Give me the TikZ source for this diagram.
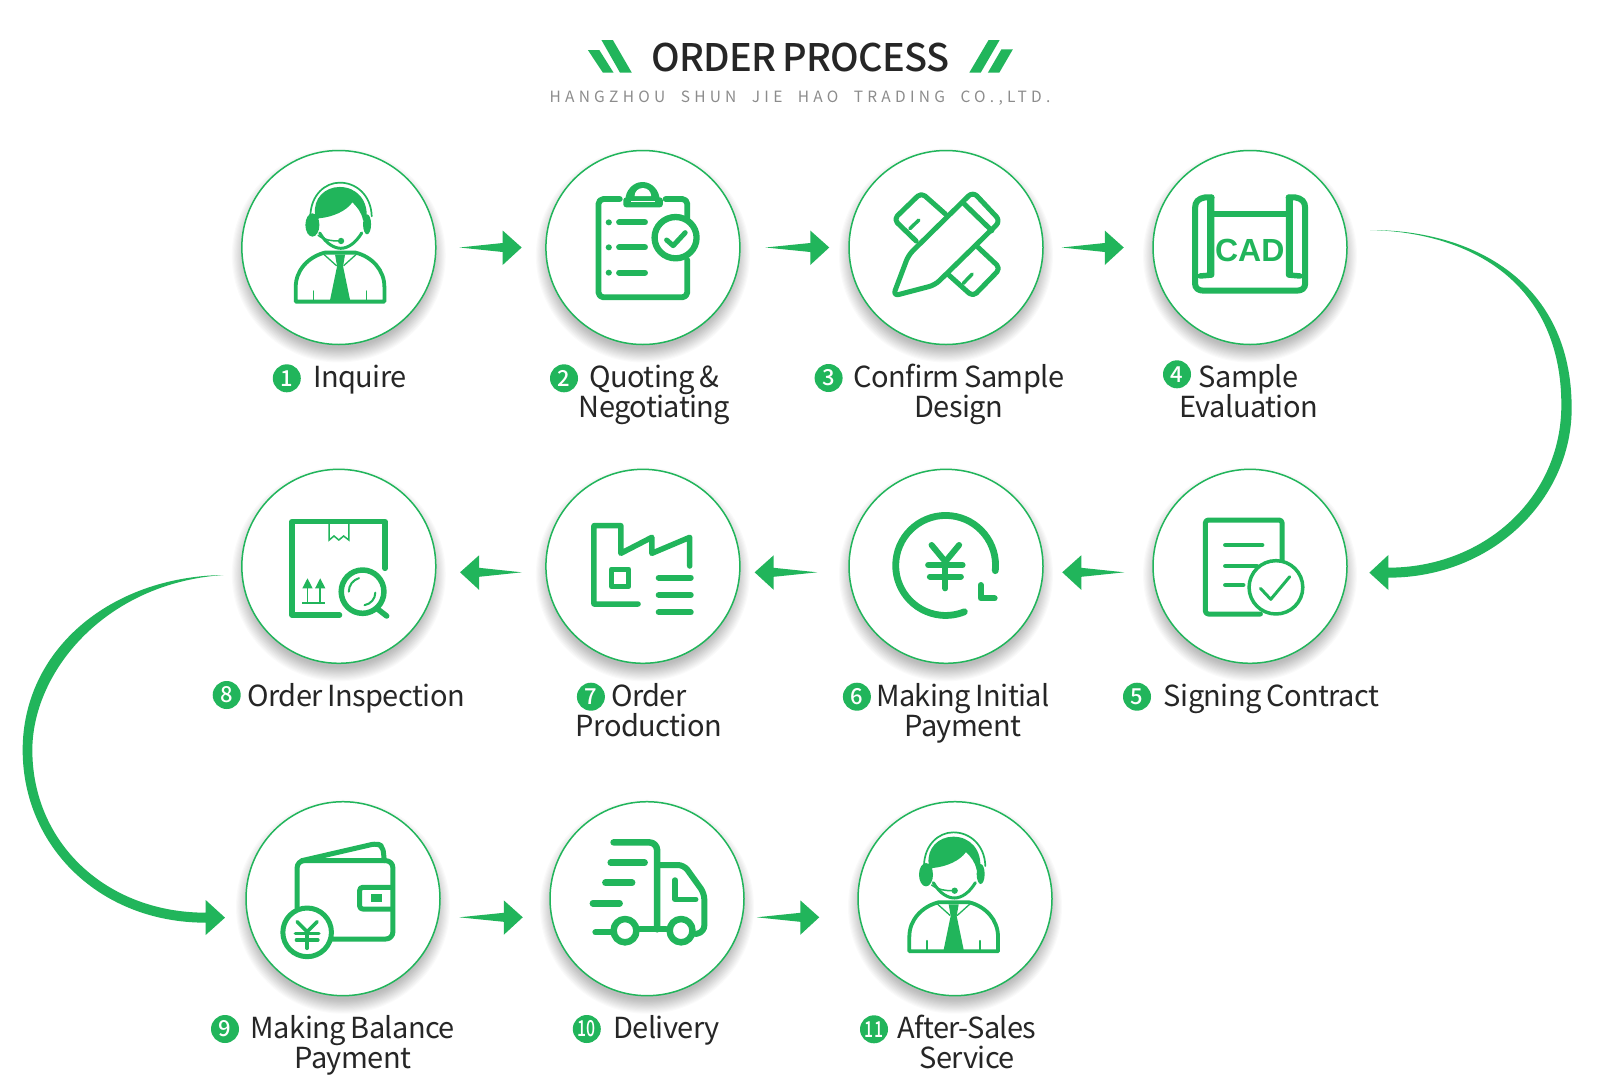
\documentclass[tikz,border=0pt]{standalone}
\usepackage{fontspec}
\usetikzlibrary{calc}
\setmainfont{Noto Sans CJK SC}[LetterSpace=-2,WordSpace=0.8]
\newfontfamily\titlefont{Noto Sans CJK SC Medium}[LetterSpace=-2,WordSpace=0.8]
\newfontfamily\subfont{Noto Sans CJK SC}[LetterSpace=27.5,WordSpace=2]
\newfontfamily\numfont{Noto Sans CJK SC Medium}
\newfontfamily\cadfont{Liberation Sans}
\definecolor{grn}{RGB}{33,181,91}
\definecolor{ink}{RGB}{38,38,38}
\tikzset{
  ln/.style={draw=grn,line width=#1pt,line cap=round,line join=round},
  zA/.style={shift={(230,140)},x=.34435pt,y=-.33333pt},
  zB/.style={shift={(830,140)},x=.34435pt,y=-.33333pt},
  zC/.style={shift={(230,460)},x=.34435pt,y=-.33333pt},
  zD/.style={shift={(830,460)},x=.34435pt,y=-.33333pt},
  zE/.style={shift={(200,790)},x=.35714pt,y=-.33333pt},
  zT/.style={shift={(520,20)},x=.35714pt,y=-.33333pt},
  stepcircle/.style={circle,draw=grn,line width=1.5pt,fill=white,minimum size=194pt,inner sep=0pt},
  numdot/.style={circle,fill=grn,text=white,minimum size=28pt,inner sep=0pt,font=\numfont\fontsize{22}{22}\selectfont},
  lab/.style={text=ink,align=center,anchor=base,inner sep=0pt,font=\fontsize{29}{30}\selectfont},
  flow/.style={fill=grn,draw=none},
}
\newcommand\blockR[2]{\fill[flow] (#1) -- ($(#2)+(-19,-4.5)$) -- ($(#2)+(-19,-17)$) -- (#2) -- ($(#2)+(-19,17.5)$) -- ($(#2)+(-19,4.5)$) -- cycle;}
\newcommand\blockL[2]{\fill[flow] (#1) -- ($(#2)+(19,-4.5)$) -- ($(#2)+(19,-17)$) -- (#2) -- ($(#2)+(19,17.5)$) -- ($(#2)+(19,4.5)$) -- cycle;}
\newcommand\person{%
  \draw[ln=1.7] (492,225) .. controls (494,165) and (535,127) .. (580,127) .. controls (630,127) and (674,165) .. (676,228);
  \fill[grn] (506,222) .. controls (500,175) and (535,140) .. (580,140) .. controls (630,140) and (668,180) .. (660,240) -- (650,240) .. controls (645,215) and (632,200) .. (618,186) .. controls (600,212) and (560,230) .. (518,234) -- (510,240) -- cycle;
  \fill[grn] (498,254) circle[x radius=21,y radius=35];
  \fill[grn] (662,252) circle[x radius=12,y radius=30];
  \draw[ln=3] (520,278) .. controls (540,312) and (565,324) .. (583,324) .. controls (605,324) and (628,308) .. (646,278);
  \draw[ln=1.5] (515,285) .. controls (535,300) and (555,302) .. (578,302);
  \fill[grn] (584,302) circle[radius=9.5];
  \draw[ln=3.8] (448,440) .. controls (448,390) and (485,350) .. (535,337) -- (628,337) .. controls (678,350) and (714,390) .. (714,440) -- (714,484) -- (448,484) -- cycle;
  \draw[ln=1.3] (530,340) -- (570,376); \draw[ln=1.3] (632,340) -- (592,376);
  \fill[grn] (566,343) -- (596,343) -- (590,378) -- (612,484) -- (550,484) -- (572,378) -- cycle;
  \draw[ln=1.4] (501,452) -- (501,482); \draw[ln=1.4] (660,452) -- (660,482);
}
\begin{document}
\begin{tikzpicture}[x=1pt,y=-1pt]
\fill[white] (0,0) rectangle (1600,1090);
\useasboundingbox (0,0) rectangle (1600,1090);
% title
\begin{scope}[zT]
  \fill[grn] (228,60) -- (260,60) -- (313,158) -- (280,158) -- cycle;
  \fill[grn] (190,90) -- (222,90) -- (262,158) -- (232,158) -- cycle;
  \fill[grn] (1312,60) -- (1343,60) -- (1290,158) -- (1258,158) -- cycle;
  \fill[grn] (1348,88) -- (1380,88) -- (1342,158) -- (1310,158) -- cycle;
\end{scope}
\node[anchor=base,inner sep=0pt,text=ink,font=\titlefont\fontsize{38}{38}\selectfont] (title) at (800.4,71.5) {ORDER PROCESS};
\node[anchor=base,inner sep=0pt,text=black!45,font=\subfont\fontsize{15.5}{16}\selectfont] (sub) at (800,102) {HANGZHOU SHUN JIE HAO TRADING CO.,LTD.};
% shadows
\foreach \px/\py in {338.8/247.5,642.9/247.5,946/247.5,1250/247.5,338.8/566.3,642.9/566.3,946/566.3,1250/566.3,343/898.7,647/898.7,955/898.7}{
  \foreach \i in {0,...,13}{\fill[black,opacity=.02] (\px,\py+8) circle[radius={107-\i*1.1}];}
}
% circles
\node[stepcircle] (c1) at (338.8,247.5) {};
\node[stepcircle] (c2) at (642.9,247.5) {};
\node[stepcircle] (c3) at (946,247.5) {};
\node[stepcircle] (c4) at (1250,247.5) {};
\node[stepcircle] (c5) at (1250,566.3) {};
\node[stepcircle] (c6) at (946,566.3) {};
\node[stepcircle] (c7) at (642.9,566.3) {};
\node[stepcircle] (c8) at (338.8,566.3) {};
\node[stepcircle] (c9) at (343,898.7) {};
\node[stepcircle] (c10) at (647,898.7) {};
\node[stepcircle] (c11) at (955,898.7) {};
% straight connectors
\coordinate (t12) at ($(c1.east)+(23,0)$); \coordinate (h12) at ($(c2.west)+(-23.5,0)$); \blockR{t12}{h12}
\coordinate (t23) at ($(c2.east)+(25,0)$); \coordinate (h23) at ($(c3.west)+(-19,0)$); \blockR{t23}{h23}
\coordinate (t34) at ($(c3.east)+(18,0)$); \coordinate (h34) at ($(c4.west)+(-28.5,0)$); \blockR{t34}{h34}
\coordinate (t56) at ($(c5.west)+(-28,6)$); \coordinate (h56) at ($(c6.east)+(18.5,6)$); \blockL{t56}{h56}
\coordinate (t67) at ($(c6.west)+(-31,6)$); \coordinate (h67) at ($(c7.east)+(14,6)$); \blockL{t67}{h67}
\coordinate (t78) at ($(c7.west)+(-23.5,6)$); \coordinate (h78) at ($(c8.east)+(23.5,6)$); \blockL{t78}{h78}
\coordinate (t910) at ($(c9.east)+(18.5,18.6)$); \coordinate (h910) at ($(c10.west)+(-26.5,18.6)$); \blockR{t910}{h910}
\coordinate (t1011) at ($(c10.east)+(12,18.6)$); \coordinate (h1011) at ($(c11.west)+(-38,18.6)$); \blockR{t1011}{h1011}
% long curved connectors
\begin{scope}[shift={(1350,215)},x=.33333pt,y=-.33333pt]
  \coordinate (a45s) at (60,45);
  \fill[flow] (a45s) .. controls (370,45) and (665,200) .. (665,580) .. controls (665,850) and (430,1088) .. (115,1088) -- (115,1125) -- (58,1073) -- (115,1020) -- (115,1058) .. controls (400,1058) and (634,850) .. (634,570) .. controls (634,210) and (370,52) .. (a45s) -- cycle;
\end{scope}
\begin{scope}[shift={(10,560)},x=.33333pt,y=-.33333pt]
  \coordinate (a89s) at (640,45);
  \fill[flow] (a89s) .. controls (300,50) and (38,270) .. (38,570) .. controls (38,860) and (270,1088) .. (587,1088) -- (587,1125) -- (645,1073) -- (587,1020) -- (587,1058) .. controls (290,1058) and (67,850) .. (67,570) .. controls (67,340) and (280,70) .. (a89s) -- cycle;
\end{scope}
% icon 1 and 11
\begin{scope}[shift={(146.4,140.3)},x=.33333pt,y=-.33333pt]\person\end{scope}
\begin{scope}[shift={(760,790)},x=.33333pt,y=-.33333pt]\person\end{scope}
% icon 2 clipboard
\begin{scope}[zA]
  \draw[ln=5.8,rounded corners=5pt] (1132,177) -- (1070,177) -- (1070,472) -- (1328,472) -- (1328,360);
  \draw[ln=5.8,rounded corners=5pt] (1265,177) -- (1328,177) -- (1328,235);
  \fill[grn] (1148,182) arc[start angle=180,end angle=360,x radius=50,y radius=56] -- cycle;
  \fill[white] (1175,168) arc[start angle=180,end angle=360,x radius=24,y radius=24] -- cycle;
  \fill[grn,rounded corners=3pt] (1142,172) rectangle (1257,202);
  \draw[white,line width=.8pt] (1165,183) -- (1235,183);
  \foreach \yy in {247,322,398}{
    \fill[grn] (1100,\yy) circle[radius=9];
    \draw[ln=6] (1130,\yy) -- (1205,\yy);
  }
  \draw[ln=6.3,fill=white] (1294,293) circle[x radius=61,y radius=62];
  \draw[ln=5] (1268,300) -- (1287,317) -- (1322,278);
\end{scope}
% icon 3 pencil and ruler
\begin{scope}[zB]
  \draw[ln=5,rounded corners=5pt] (335,222) -- (265,158) -- (185,238) -- (250,303);
  \draw[ln=3.5] (258,240) -- (232,266);
  \draw[ln=5,rounded corners=5pt] (430,322) -- (495,385) -- (415,470) -- (345,405);
  \draw[ln=3.5] (413,402) -- (387,430);
  \draw[ln=5,rounded corners=6pt] (415,155) -- (228,345) -- (183,468) -- (305,435) -- (495,243) -- cycle;
  \draw[ln=5] (388,190) -- (470,272);
\end{scope}
% icon 4 CAD
\begin{scope}[zB]
  \draw[ln=6] (1108,172) -- (1090,172) .. controls (1070,175) and (1060,185) .. (1060,205) -- (1060,430) .. controls (1060,445) and (1070,452) .. (1085,452) -- (1355,452) .. controls (1370,452) and (1380,445) .. (1380,430) -- (1380,205) .. controls (1380,185) and (1370,175) .. (1350,172) -- (1332,172);
  \draw[ln=5.5] (1108,172) -- (1108,405) -- (1075,408);
  \draw[ln=5.5] (1332,172) -- (1332,405) -- (1365,408);
  \fill[grn] (1096,172) -- (1108,172) -- (1108,400) -- (1096,400) -- cycle;
  \fill[grn] (1332,172) -- (1344,172) -- (1344,400) -- (1332,400) -- cycle;
  \draw[ln=6] (1108,222) -- (1332,222);
  \node[text=grn,inner sep=0pt,font=\cadfont\bfseries\fontsize{32}{32}\selectfont] (cad) at (1219,330) {CAD};
\end{scope}
% icon 5 contract
\begin{scope}[zD]
  \draw[ln=5,rounded corners=3pt] (1313,320) -- (1313,180) -- (1090,180) -- (1090,462) -- (1250,462);
  \draw[ln=4.5] (1148,255) -- (1255,255);
  \draw[ln=4.5] (1148,318) -- (1240,318);
  \draw[ln=4.5] (1148,375) -- (1200,375);
  \draw[ln=3.5,fill=white] (1295,382) circle[x radius=78,y radius=80];
  \draw[ln=3] (1250,385) -- (1280,418) -- (1335,350);
\end{scope}
% icon 6 yen circle
\begin{scope}[zD]
  \draw[ln=6.8] (480,332) arc[start angle=6,delta angle=-298,x radius=145,y radius=150];
  \draw[ln=6] (438,375) -- (438,415) -- (478,415);
  \draw[ln=6] (295,255) -- (335,305) -- (375,255);
  \draw[ln=6] (335,305) -- (335,385);
  \draw[ln=6] (285,315) -- (385,315);
  \draw[ln=6] (290,350) -- (380,350);
\end{scope}
% icon 7 factory
\begin{scope}[zC]
  \draw[ln=5.5] (1185,432) -- (1057,432) -- (1057,197) -- (1135,197) -- (1135,280) -- (1225,232) -- (1225,280) -- (1335,232) -- (1335,318);
  \draw[ln=5] (1108,327) rectangle (1158,380);
  \foreach \yy in {353,405,457}{\draw[ln=6] (1245,\yy) -- (1338,\yy);}
\end{scope}
% icon 8 inspection
\begin{scope}[zC]
  \draw[ln=5.5] (450,325) -- (450,185) -- (180,185) -- (180,465) -- (318,465);
  \draw[line width=1.5pt,draw=grn] (288,190) -- (288,240) -- (302,228) -- (316,240) -- (330,228) -- (345,240) -- (345,190);
  \draw[line width=1.8pt,draw=grn] (225,380) -- (225,430);
  \draw[line width=1.8pt,draw=grn] (262,380) -- (262,430);
  \draw[line width=1.8pt,draw=grn] (210,430) -- (275,430);
  \fill[grn] (210,385) -- (225,355) -- (240,385) -- cycle;
  \fill[grn] (247,385) -- (262,355) -- (277,385) -- cycle;
  \draw[ln=5.5,fill=white] (385,395) circle[x radius=62,y radius=65];
  \draw[ln=2] (345,395) arc[start angle=180,end angle=255,x radius=40,y radius=42];
  \draw[ln=2] (422,398) arc[start angle=0,end angle=80,x radius=38,y radius=38];
  \draw[ln=5.5] (430,448) -- (455,468);
\end{scope}
% icon 9 wallet
\begin{scope}[zE]
  \draw[ln=5,rounded corners=7pt] (272,355) -- (272,212) -- (540,212) -- (540,447) -- (370,447);
  \draw[ln=5,rounded corners=5pt] (285,212) -- (495,160) -- (512,170) -- (516,212);
  \draw[ln=5,rounded corners=3pt] (535,292) -- (447,292) -- (447,357) -- (535,357);
  \fill[grn] (480,312) rectangle (510,337);
  \draw[ln=5,fill=white] (300,427) circle[x radius=68,y radius=73];
  \draw[ln=3.5] (272,395) -- (300,425) -- (328,395);
  \draw[ln=3.5] (300,425) -- (300,475);
  \draw[ln=3.5] (267,430) -- (333,430);
  \draw[ln=3.5] (270,450) -- (330,450);
\end{scope}
% icon 10 truck
\begin{scope}[zE]
  \draw[ln=6.5,rounded corners=8pt] (1158,157) -- (1280,157) -- (1280,418);
  \draw[ln=6,rounded corners=6pt] (1285,225) -- (1355,225) -- (1412,310) -- (1412,425) -- (1388,432);
  \draw[ln=6] (1232,418) -- (1305,418);
  \draw[ln=6] (1107,427) -- (1150,427);
  \draw[ln=6.5] (1190,422) circle[x radius=32,y radius=35];
  \draw[ln=6.5] (1347,422) circle[x radius=32,y radius=35];
  \foreach \aa/\bb/\yy in {1150/1245/218,1135/1210/278,1100/1175/340}{\draw[ln=6.5] (\aa,\yy) -- (\bb,\yy);}
  \draw[ln=5.5] (1330,270) -- (1330,328) -- (1388,328);
\end{scope}
% bullets
\node[numdot] (b1) at (286.8,378.3) {1};
\node[numdot] (b2) at (564,378.3) {2};
\node[numdot] (b3) at (828.6,378) {3};
\node[numdot] (b4) at (1177,374.3) {4};
\node[numdot] (b5) at (1137,696.7) {5};
\node[numdot] (b6) at (856.9,696.7) {6};
\node[numdot] (b7) at (590.9,696.7) {7};
\node[numdot] (b8) at (226.7,695) {8};
\node[numdot] (b9) at (225,1029) {9};
\node[numdot] (b10) at (586.8,1029) {\scalebox{.72}[1]{10}};
\node[numdot] (b11) at (874,1029.3) {\scalebox{.72}[1]{11}};
% labels
\node[lab] (l1) at (360,387.5) {Inquire};
\node[lab] (l2) at (654.5,417) {Quoting \&\\Negotiating};
\node[lab] (l3) at (958.7,417) {Confirm Sample\\Design};
\node[lab] (l4) at (1248.7,417) {Sample\\Evaluation};
\node[lab] (l5) at (1271.6,706) {Signing Contract};
\node[lab] (l6) at (963,736) {Making Initial\\Payment};
\node[lab] (l7) at (648.8,736) {Order\\Production};
\node[lab] (l8) at (356,706) {Order Inspection};
\node[lab] (l9) at (353,1068) {Making Balance\\Payment};
\node[lab] (l10) at (666.4,1038) {Delivery};
\node[lab] (l11) at (967,1068) {After-Sales\\Service};
\end{tikzpicture}
\end{document}
